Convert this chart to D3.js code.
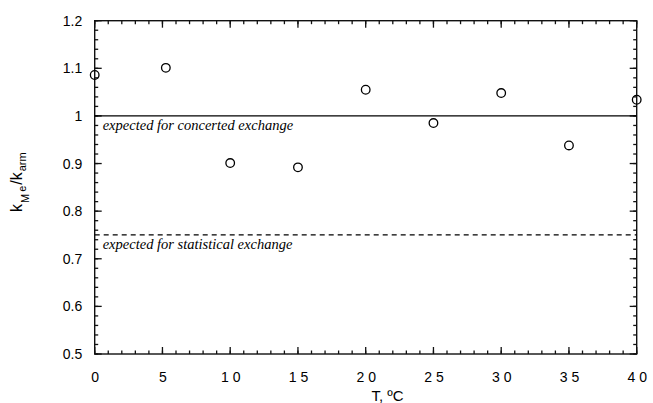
<!DOCTYPE html>
<html>
<head>
<meta charset="utf-8">
<script src="https://cdn.jsdelivr.net/npm/d3@7/dist/d3.min.js"></script>
<style>
  body { margin: 0; background: #fff; }
  svg { display: block; }
</style>
</head>
<body>
<svg id="chart"></svg>
<script>
// data
var temps = [0, 5.25, 10, 15, 20, 25, 30, 35, 40];
var ratios = [1.086, 1.101, 0.901, 0.892, 1.055, 0.985, 1.048, 0.938, 1.034];

var refValues = [1, 0.75];
var refLabels = ["expected for concerted exchange", "expected for statistical exchange"];

var xTicks = [0, 5, 10, 15, 20, 25, 30, 35, 40];
var xTickLabels = ["0", "5", "10", "15", "20", "25", "30", "35", "40"];
var yTicks = [0.5, 0.6, 0.7, 0.8, 0.9, 1, 1.1, 1.2];
var yTickLabels = ["0.5", "0.6", "0.7", "0.8", "0.9", "1", "1.1", "1.2"];

const width = 653;
const height = 403;
const margin = {top: 20.7, right: 16.3, bottom: 49, left: 94.7};

const x = d3.scaleLinear([0, 40], [margin.left, width - margin.right]);
const y = d3.scaleLinear([0.5, 1.2], [height - margin.bottom, margin.top]);

var svg = d3.select('#chart')
  .attr('width', width)
  .attr('height', height)
  .attr('viewBox', [0, 0, width, height])
  .style('font-family', '"Liberation Sans", Arial, sans-serif');

var xMinor = d3.range(0, 41, 1);
var yMinor = d3.range(0, 36, 1).map(i => 0.5 + i * 0.02);

var x0 = x.range()[0], x1 = x.range()[1];
var y0 = y.range()[0], y1 = y.range()[1];

// frame
svg.append("rect")
  .attr("x", x0).attr("y", y1)
  .attr("width", x1 - x0).attr("height", y0 - y1)
  .attr("fill", "none")
  .attr("stroke", "#111")
  .attr("stroke-width", 1.4);

// inward ticks on all four sides
function ticksX(vals, len) {
  [[y0, -1], [y1, 1]].forEach(([yy, k]) => {
    svg.append("g").selectAll("line")
      .data(vals)
      .join("line")
        .attr("x1", d => x(d)).attr("x2", d => x(d))
        .attr("y1", yy).attr("y2", yy + k * len)
        .attr("stroke", "#111").attr("stroke-width", 1.3);
  });
}
function ticksY(vals, len) {
  [[x0, 1], [x1, -1]].forEach(([xx, k]) => {
    svg.append("g").selectAll("line")
      .data(vals)
      .join("line")
        .attr("y1", d => y(d)).attr("y2", d => y(d))
        .attr("x1", xx).attr("x2", xx + k * len)
        .attr("stroke", "#111").attr("stroke-width", 1.3);
  });
}
ticksX(xMinor, 3.5);
ticksX(xTicks, 7);
ticksY(yMinor, 3.5);
ticksY(yTicks, 7);

// tick labels through the axes, no lines of their own
var xa = svg.append("g")
  .attr("transform", `translate(0,${y0})`)
  .call(d3.axisBottom(x).tickValues(xTicks).tickSize(0).tickPadding(18)
    .tickFormat((d, i) => xTickLabels[i]));
var ya = svg.append("g")
  .attr("transform", `translate(${x0},0)`)
  .call(d3.axisLeft(y).tickValues(yTicks).tickSize(0).tickPadding(12.5)
    .tickFormat((d, i) => yTickLabels[i]));
svg.selectAll("path.domain").remove();
xa.selectAll("text").style("letter-spacing", "4px").attr("dx", "2px");
svg.selectAll(".tick text").attr("fill", "#000").style("font-size", "14px")
  .style("font-family", '"Liberation Sans", Arial, sans-serif');

// reference lines
svg.append("g").selectAll("line")
  .data(refValues)
  .join("line")
    .attr("x1", x(0))
    .attr("x2", x(40))
    .attr("y1", d => y(d))
    .attr("y2", d => y(d))
    .attr("stroke", "#000")
    .attr("stroke-width", 1.3)
    .attr("stroke-dasharray", (d, i) => i == 1 ? "5,4" : null);

svg.append("g").selectAll("text")
  .data(refValues)
  .join("text")
    .attr("x", x(0) + 8)
    .attr("y", d => y(d) + 14)
    .style("font-family", '"Liberation Serif", "Times New Roman", serif')
    .style("font-style", "italic")
    .style("font-size", "14.5px")
    .text((d, i) => refLabels[i]);

// points
svg.append("g").selectAll("circle")
  .data(temps)
  .join("circle")
    .attr("cx", d => x(d))
    .attr("cy", (d, i) => y(ratios[i]))
    .attr("r", 4.3)
    .attr("fill", "none")
    .attr("stroke", "#000")
    .attr("stroke-width", 1.3);

// axis titles
svg.append("text")
  .attr("x", 387.5)
  .attr("y", 401)
  .attr("text-anchor", "middle")
  .style("font-size", "15px")
  .text("T, ºC");

var yl = svg.append("text")
  .attr("transform", "translate(22,212) rotate(-90)")
  .style("font-size", "16px");
yl.append("tspan").text("k");
yl.append("tspan").attr("dy", 7).attr("dx", 1).style("font-size", "11px").text("M");
yl.append("tspan").attr("dy", -3).attr("dx", 2).style("font-size", "11px").text("e");
yl.append("tspan").attr("dy", -4).attr("dx", 1).text("/k");
yl.append("tspan").attr("dy", 4).attr("dx", 1).style("font-size", "11px").text("arm");
</script>
</body>
</html>
